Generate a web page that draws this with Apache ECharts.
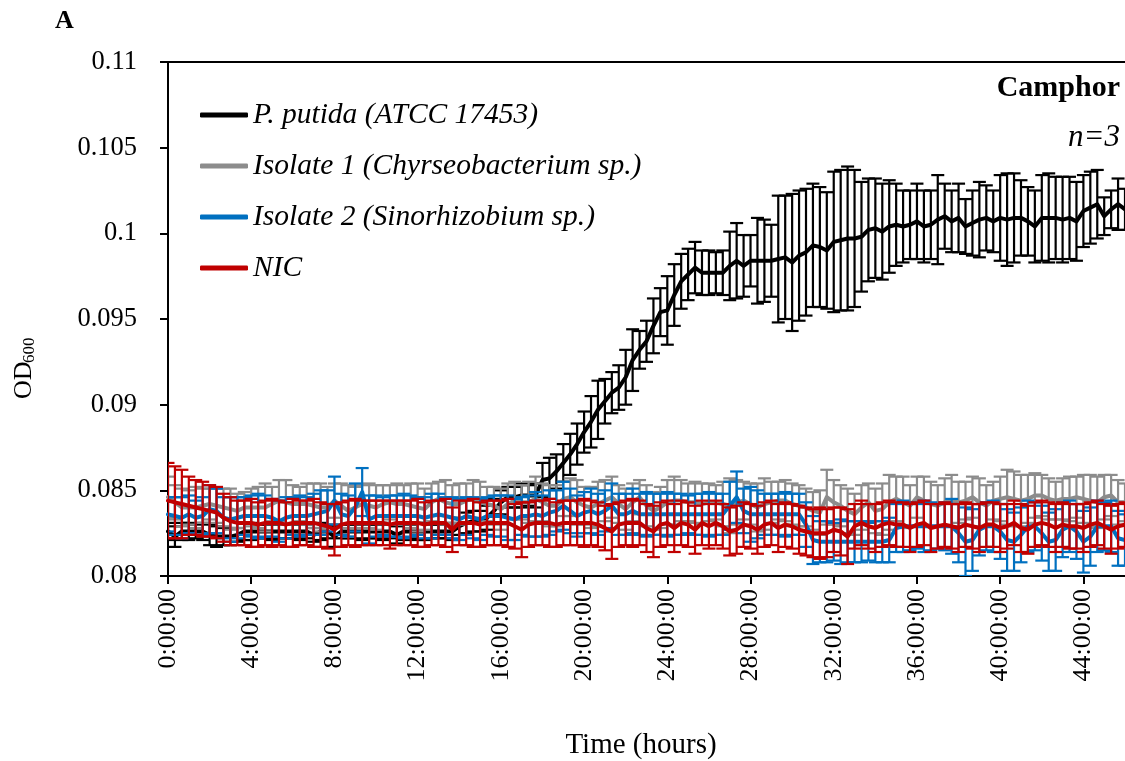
<!DOCTYPE html>
<html>
<head>
<meta charset="utf-8">
<script src="https://cdn.jsdelivr.net/npm/echarts@6/dist/echarts.min.js"></script>
<style>
  html, body { margin: 0; padding: 0; background: #ffffff; }
  #chart { width: 1125px; height: 761px; }
</style>
</head>
<body>
<div id="chart"></div>
<script>
// Plate-reader growth on camphor: OD600 every 20 min, mean ± SD of triplicates.
const stepMinutes = 20;
const xTickHours = [0, 4, 8, 12, 16, 20, 24, 28, 32, 36, 40, 44];
const yTicks = [0.08, 0.085, 0.09, 0.095, 0.1, 0.105, 0.11];

const seriesNames = [
  'P. putida (ATCC 17453)',
  'Isolate 1 (Chyrseobacterium sp.)',
  'Isolate 2 (Sinorhizobium sp.)',
  'NIC'
];
const seriesColors = ['#000000', '#8c8c8c', '#0070c0', '#c00000'];

const pputida = [
  0.0826,0.0823,0.0826,0.0826,0.0826,0.0826,0.0824,0.0823,0.0823,0.0823,
  0.0824,0.0826,0.0826,0.0826,0.0826,0.0826,0.0826,0.0826,0.0826,0.0826,
  0.0826,0.0824,0.0826,0.0826,0.0823,0.0826,0.0826,0.0826,0.0826,0.0826,
  0.0826,0.0826,0.0826,0.0824,0.0826,0.0826,0.0826,0.0826,0.0826,0.0826,
  0.0826,0.0826,0.0829,0.0831,0.0832,0.0832,0.0834,0.0838,0.0843,0.0846,
  0.0846,0.0847,0.0847,0.0847,0.0856,0.0857,0.0861,0.0866,0.0871,0.0877,
  0.0884,0.0890,0.0897,0.0902,0.0907,0.0910,0.0916,0.0926,0.0932,0.0937,
  0.0946,0.0954,0.0955,0.0964,0.0972,0.0976,0.0980,0.0977,0.0977,0.0977,
  0.0977,0.0981,0.0984,0.0981,0.0984,0.0984,0.0984,0.0984,0.0985,0.0986,
  0.0983,0.0987,0.0989,0.0993,0.0992,0.0990,0.0995,0.0996,0.0997,0.0997,
  0.0998,0.1002,0.1003,0.1001,0.1004,0.1005,0.1004,0.1005,0.1007,0.1004,
  0.1005,0.1008,0.1010,0.1007,0.1009,0.1004,0.1006,0.1008,0.1009,0.1007,
  0.1009,0.1008,0.1009,0.1009,0.1007,0.1004,0.1009,0.1009,0.1009,0.1008,
  0.1009,0.1007,0.1013,0.1015,0.1017,0.1010,0.1014,0.1017,0.1014
];
const pputidaSd = [
  0.0005,0.0006,0.0005,0.0005,0.0004,0.0005,0.0006,0.0006,0.0005,0.0005,
  0.0004,0.0005,0.0005,0.0004,0.0004,0.0005,0.0004,0.0004,0.0004,0.0005,
  0.0004,0.0004,0.0005,0.0004,0.0006,0.0004,0.0004,0.0004,0.0005,0.0004,
  0.0004,0.0005,0.0004,0.0005,0.0005,0.0004,0.0005,0.0005,0.0004,0.0004,
  0.0004,0.0005,0.0005,0.0006,0.0006,0.0006,0.0007,0.0007,0.0007,0.0006,
  0.0006,0.0007,0.0006,0.0007,0.0010,0.0012,0.0010,0.0011,0.0012,0.0012,
  0.0012,0.0015,0.0017,0.0013,0.0012,0.0013,0.0016,0.0018,0.0011,0.0012,
  0.0016,0.0014,0.0020,0.0018,0.0016,0.0015,0.0015,0.0013,0.0013,0.0012,
  0.0013,0.0020,0.0022,0.0018,0.0015,0.0025,0.0024,0.0021,0.0037,0.0036,
  0.0040,0.0038,0.0037,0.0036,0.0035,0.0034,0.0041,0.0041,0.0042,0.0040,
  0.0032,0.0030,0.0029,0.0028,0.0027,0.0024,0.0021,0.0020,0.0022,0.0021,
  0.0020,0.0026,0.0019,0.0018,0.0020,0.0016,0.0019,0.0022,0.0019,0.0018,
  0.0025,0.0027,0.0026,0.0022,0.0020,0.0021,0.0025,0.0026,0.0024,0.0025,
  0.0024,0.0023,0.0021,0.0021,0.0020,0.0011,0.0011,0.0015,0.0012
];

const isolate1 = [
  0.0846,0.0843,0.0840,0.0840,0.0840,0.0841,0.0842,0.0841,0.0840,0.0839,
  0.0838,0.0840,0.0840,0.0840,0.0840,0.0842,0.0844,0.0843,0.0842,0.0842,
  0.0842,0.0841,0.0840,0.0840,0.0844,0.0841,0.0838,0.0840,0.0842,0.0841,
  0.0840,0.0842,0.0843,0.0842,0.0842,0.0841,0.0840,0.0839,0.0843,0.0845,
  0.0843,0.0842,0.0842,0.0844,0.0845,0.0843,0.0842,0.0841,0.0839,0.0842,
  0.0844,0.0843,0.0843,0.0845,0.0843,0.0841,0.0841,0.0845,0.0846,0.0843,
  0.0841,0.0840,0.0842,0.0844,0.0846,0.0842,0.0839,0.0843,0.0846,0.0841,
  0.0838,0.0840,0.0843,0.0844,0.0844,0.0843,0.0843,0.0842,0.0843,0.0843,
  0.0842,0.0841,0.0843,0.0844,0.0842,0.0840,0.0842,0.0843,0.0844,0.0844,
  0.0842,0.0841,0.0840,0.0838,0.0837,0.0846,0.0843,0.0841,0.0838,0.0836,
  0.0840,0.0843,0.0838,0.0839,0.0843,0.0845,0.0843,0.0841,0.0846,0.0844,
  0.0842,0.0841,0.0843,0.0844,0.0843,0.0844,0.0846,0.0843,0.0841,0.0844,
  0.0845,0.0846,0.0845,0.0844,0.0845,0.0847,0.0847,0.0845,0.0844,0.0845,
  0.0845,0.0846,0.0845,0.0844,0.0843,0.0846,0.0847,0.0843,0.0843
];
const isolate1Sd = [
  0.0012,0.0010,0.0011,0.0010,0.0012,0.0010,0.0009,0.0010,0.0011,0.0012,
  0.0010,0.0009,0.0011,0.0012,0.0014,0.0010,0.0012,0.0013,0.0011,0.0010,
  0.0012,0.0013,0.0014,0.0012,0.0010,0.0013,0.0015,0.0012,0.0011,0.0013,
  0.0013,0.0011,0.0010,0.0012,0.0011,0.0013,0.0014,0.0012,0.0011,0.0010,
  0.0013,0.0011,0.0012,0.0010,0.0011,0.0012,0.0010,0.0011,0.0012,0.0012,
  0.0011,0.0010,0.0012,0.0013,0.0011,0.0012,0.0012,0.0010,0.0011,0.0013,
  0.0011,0.0012,0.0013,0.0012,0.0012,0.0011,0.0012,0.0011,0.0010,0.0012,
  0.0011,0.0012,0.0013,0.0014,0.0012,0.0011,0.0012,0.0012,0.0011,0.0010,
  0.0013,0.0016,0.0013,0.0011,0.0012,0.0014,0.0015,0.0012,0.0011,0.0012,
  0.0012,0.0012,0.0011,0.0011,0.0013,0.0016,0.0013,0.0012,0.0013,0.0012,
  0.0013,0.0011,0.0013,0.0015,0.0016,0.0013,0.0015,0.0012,0.0012,0.0014,
  0.0013,0.0012,0.0014,0.0015,0.0012,0.0011,0.0012,0.0014,0.0012,0.0011,
  0.0013,0.0016,0.0016,0.0015,0.0014,0.0013,0.0012,0.0012,0.0011,0.0012,
  0.0013,0.0012,0.0014,0.0015,0.0015,0.0013,0.0012,0.0013,0.0011
];

const isolate2 = [
  0.0836,0.0835,0.0834,0.0836,0.0834,0.0835,0.0839,0.0838,0.0834,0.0833,
  0.0834,0.0835,0.0835,0.0835,0.0835,0.0834,0.0832,0.0834,0.0835,0.0835,
  0.0835,0.0836,0.0837,0.0838,0.0844,0.0836,0.0835,0.0840,0.0849,0.0833,
  0.0835,0.0835,0.0835,0.0835,0.0835,0.0835,0.0835,0.0834,0.0835,0.0836,
  0.0835,0.0834,0.0833,0.0835,0.0834,0.0833,0.0835,0.0835,0.0835,0.0834,
  0.0833,0.0835,0.0835,0.0836,0.0835,0.0837,0.0838,0.0841,0.0838,0.0835,
  0.0837,0.0838,0.0836,0.0838,0.0841,0.0836,0.0836,0.0838,0.0836,0.0836,
  0.0836,0.0836,0.0836,0.0836,0.0836,0.0836,0.0836,0.0836,0.0836,0.0836,
  0.0836,0.0841,0.0846,0.0838,0.0836,0.0836,0.0836,0.0836,0.0836,0.0836,
  0.0836,0.0836,0.0830,0.0821,0.0820,0.0820,0.0820,0.0820,0.0820,0.0820,
  0.0820,0.0820,0.0820,0.0820,0.0821,0.0828,0.0829,0.0829,0.0829,0.0829,
  0.0829,0.0829,0.0829,0.0829,0.0825,0.0820,0.0821,0.0827,0.0829,0.0829,
  0.0826,0.0821,0.0820,0.0824,0.0829,0.0829,0.0825,0.0820,0.0821,0.0827,
  0.0829,0.0826,0.0820,0.0823,0.0829,0.0829,0.0829,0.0822,0.0821
];
const isolate2Sd = [
  0.0010,0.0011,0.0012,0.0011,0.0010,0.0011,0.0014,0.0013,0.0012,0.0013,
  0.0012,0.0011,0.0012,0.0013,0.0012,0.0011,0.0012,0.0012,0.0011,0.0012,
  0.0011,0.0012,0.0013,0.0012,0.0014,0.0012,0.0012,0.0014,0.0014,0.0014,
  0.0012,0.0011,0.0012,0.0012,0.0013,0.0012,0.0011,0.0012,0.0013,0.0012,
  0.0011,0.0012,0.0012,0.0011,0.0012,0.0012,0.0011,0.0012,0.0012,0.0013,
  0.0012,0.0011,0.0012,0.0013,0.0012,0.0013,0.0012,0.0014,0.0013,0.0012,
  0.0012,0.0013,0.0012,0.0012,0.0013,0.0012,0.0012,0.0013,0.0012,0.0013,
  0.0012,0.0012,0.0013,0.0012,0.0012,0.0011,0.0012,0.0012,0.0013,0.0012,
  0.0012,0.0014,0.0015,0.0013,0.0016,0.0014,0.0012,0.0012,0.0012,0.0013,
  0.0012,0.0012,0.0013,0.0014,0.0012,0.0012,0.0011,0.0013,0.0012,0.0012,
  0.0012,0.0011,0.0012,0.0012,0.0013,0.0014,0.0015,0.0014,0.0013,0.0015,
  0.0014,0.0013,0.0014,0.0016,0.0017,0.0020,0.0018,0.0015,0.0014,0.0015,
  0.0016,0.0018,0.0017,0.0016,0.0015,0.0014,0.0016,0.0017,0.0018,0.0016,
  0.0015,0.0016,0.0018,0.0017,0.0015,0.0014,0.0015,0.0016,0.0015
];

const nic = [
  0.0844,0.0843,0.0842,0.0841,0.0840,0.0839,0.0838,0.0837,0.0834,0.0832,
  0.0831,0.0831,0.0831,0.0830,0.0831,0.0831,0.0831,0.0830,0.0831,0.0831,
  0.0831,0.0831,0.0830,0.0829,0.0827,0.0830,0.0831,0.0831,0.0831,0.0831,
  0.0831,0.0831,0.0830,0.0831,0.0831,0.0831,0.0831,0.0830,0.0831,0.0831,
  0.0831,0.0827,0.0831,0.0831,0.0831,0.0830,0.0831,0.0831,0.0831,0.0831,
  0.0829,0.0827,0.0830,0.0831,0.0831,0.0831,0.0830,0.0831,0.0831,0.0831,
  0.0831,0.0831,0.0830,0.0828,0.0826,0.0830,0.0831,0.0831,0.0831,0.0828,
  0.0826,0.0830,0.0831,0.0828,0.0831,0.0830,0.0827,0.0831,0.0829,0.0831,
  0.0829,0.0826,0.0827,0.0830,0.0829,0.0827,0.0830,0.0831,0.0828,0.0830,
  0.0829,0.0827,0.0826,0.0825,0.0825,0.0825,0.0827,0.0826,0.0823,0.0829,
  0.0831,0.0829,0.0828,0.0830,0.0831,0.0830,0.0830,0.0828,0.0830,0.0831,
  0.0828,0.0829,0.0830,0.0829,0.0828,0.0830,0.0829,0.0828,0.0830,0.0830,
  0.0828,0.0829,0.0831,0.0828,0.0827,0.0830,0.0831,0.0830,0.0828,0.0830,
  0.0829,0.0829,0.0828,0.0830,0.0831,0.0829,0.0827,0.0829,0.0830
];
const nicSd = [
  0.0022,0.0021,0.0020,0.0017,0.0016,0.0016,0.0015,0.0015,0.0014,0.0014,
  0.0013,0.0013,0.0014,0.0013,0.0013,0.0014,0.0013,0.0013,0.0014,0.0013,
  0.0013,0.0014,0.0013,0.0013,0.0015,0.0013,0.0013,0.0014,0.0013,0.0013,
  0.0013,0.0013,0.0014,0.0013,0.0013,0.0013,0.0014,0.0013,0.0013,0.0013,
  0.0014,0.0013,0.0013,0.0013,0.0014,0.0013,0.0013,0.0013,0.0013,0.0014,
  0.0013,0.0016,0.0013,0.0013,0.0013,0.0014,0.0013,0.0013,0.0013,0.0013,
  0.0014,0.0013,0.0013,0.0013,0.0016,0.0013,0.0013,0.0014,0.0013,0.0014,
  0.0015,0.0013,0.0013,0.0014,0.0013,0.0013,0.0014,0.0013,0.0013,0.0013,
  0.0013,0.0014,0.0014,0.0013,0.0013,0.0014,0.0013,0.0013,0.0014,0.0013,
  0.0013,0.0014,0.0014,0.0014,0.0015,0.0014,0.0013,0.0014,0.0016,0.0013,
  0.0013,0.0013,0.0014,0.0013,0.0013,0.0013,0.0013,0.0014,0.0013,0.0013,
  0.0014,0.0013,0.0013,0.0013,0.0014,0.0013,0.0013,0.0014,0.0013,0.0013,
  0.0014,0.0013,0.0013,0.0014,0.0014,0.0013,0.0013,0.0013,0.0014,0.0013,
  0.0013,0.0013,0.0014,0.0013,0.0013,0.0013,0.0014,0.0013,0.0013
];

const SERIF = '"Liberation Serif", "Times New Roman", serif';
const hourOf = i => (i * stepMinutes) / 60;

// Vertical error bar with horizontal caps, drawn through the axis scales
function errorBarSeries(means, sds, color, z) {
  return {
    type: 'custom',
    silent: true,
    z: z,
    clip: true,
    encode: { x: 0, y: [1, 2] },
    data: means.map((m, i) => [hourOf(i), m - sds[i], m + sds[i]]),
    renderItem: function (params, api) {
      const x = api.value(0);
      const lo = api.coord([x, api.value(1)]);
      const hi = api.coord([x, api.value(2)]);
      const cap = 6.5;
      const style = { stroke: color, lineWidth: 2.2, fill: null };
      return {
        type: 'group',
        children: [
          { type: 'line', shape: { x1: lo[0], y1: lo[1], x2: hi[0], y2: hi[1] }, style: style },
          { type: 'line', shape: { x1: lo[0] - cap, y1: lo[1], x2: lo[0] + cap, y2: lo[1] }, style: style },
          { type: 'line', shape: { x1: hi[0] - cap, y1: hi[1], x2: hi[0] + cap, y2: hi[1] }, style: style }
        ]
      };
    }
  };
}

function lineSeries(name, means, color, z) {
  return {
    name: name,
    type: 'line',
    z: z,
    symbol: 'none',
    showSymbol: false,
    silent: true,
    animation: false,
    lineStyle: { color: color, width: 4, join: 'round', cap: 'round' },
    itemStyle: { color: color },
    data: means.map((m, i) => [hourOf(i), m])
  };
}

const groups = [
  [pputida, pputidaSd],
  [isolate1, isolate1Sd],
  [isolate2, isolate2Sd],
  [nic, nicSd]
];
const series = [];
groups.forEach((g, k) => {
  series.push(errorBarSeries(g[0], g[1], seriesColors[k], 2 + k * 2));
  series.push(lineSeries(seriesNames[k], g[0], seriesColors[k], 3 + k * 2));
});

const chart = echarts.init(document.getElementById('chart'), null, { renderer: 'canvas' });
chart.setOption({
  animation: false,
  backgroundColor: '#ffffff',
  grid: { left: 168, right: 0, top: 62, bottom: 185, containLabel: false },
  legend: {
    data: seriesNames,
    orient: 'vertical',
    left: 195,
    top: 95,
    icon: 'roundRect',
    itemWidth: 48,
    itemHeight: 5,
    itemGap: 21,
    selectedMode: false,
    textStyle: { fontFamily: SERIF, fontStyle: 'italic', fontSize: 29.5, color: '#000', lineHeight: 30 }
  },
  xAxis: [
    {
      type: 'value',
      min: 0,
      max: 46,
      interval: 4,
      axisLine: { show: true, onZero: false, lineStyle: { color: '#000', width: 2 } },
      axisTick: { show: true, length: 8, lineStyle: { color: '#000', width: 2 } },
      splitLine: { show: false },
      axisLabel: {
        rotate: 90,
        margin: 13,
        showMaxLabel: false,
        color: '#000',
        fontFamily: SERIF,
        fontSize: 26,
        formatter: v => (xTickHours.indexOf(v) >= 0 ? v + ':00:00' : '')
      }
    },
    {
      type: 'value',
      position: 'top',
      min: 0,
      max: 46,
      axisLine: { show: true, onZero: false, lineStyle: { color: '#000', width: 2 } },
      axisTick: { show: false },
      axisLabel: { show: false },
      splitLine: { show: false }
    }
  ],
  yAxis: {
    type: 'value',
    min: yTicks[0],
    max: yTicks[yTicks.length - 1],
    interval: 0.005,
    axisLine: { show: true, lineStyle: { color: '#000', width: 2 } },
    axisTick: { show: true, length: 8, lineStyle: { color: '#000', width: 2 } },
    splitLine: { show: false },
    axisLabel: {
      margin: 31,
      color: '#000',
      fontFamily: SERIF,
      fontSize: 26.5,
      formatter: v => String(parseFloat(v.toFixed(3)))
    }
  },
  graphic: [
    {
      type: 'text', left: 55, top: 8,
      style: { text: 'A', font: 'bold 26px ' + SERIF, fill: '#000' }
    },
    {
      type: 'text', x: 1120, y: 88,
      style: { text: 'Camphor', font: 'bold 30px ' + SERIF, fill: '#000', textAlign: 'right', textVerticalAlign: 'middle' }
    },
    {
      type: 'text', x: 1120, y: 138,
      style: { text: 'n=3', font: 'italic 31px ' + SERIF, fill: '#000', textAlign: 'right', textVerticalAlign: 'middle' }
    },
    {
      type: 'text', x: 641, y: 745,
      style: { text: 'Time (hours)', font: '29px ' + SERIF, fill: '#000', textAlign: 'center', textVerticalAlign: 'middle' }
    },
    {
      type: 'group', x: 24, y: 372, rotation: Math.PI / 2,
      children: [
        {
          type: 'text', x: -27, y: 0,
          style: { text: 'OD', font: '26px ' + SERIF, fill: '#000', textAlign: 'left', textVerticalAlign: 'middle' }
        },
        {
          type: 'text', x: 9, y: 6,
          style: { text: '600', font: '17px ' + SERIF, fill: '#000', textAlign: 'left', textVerticalAlign: 'middle' }
        }
      ]
    }
  ],
  series: series
});
</script>
</body>
</html>
